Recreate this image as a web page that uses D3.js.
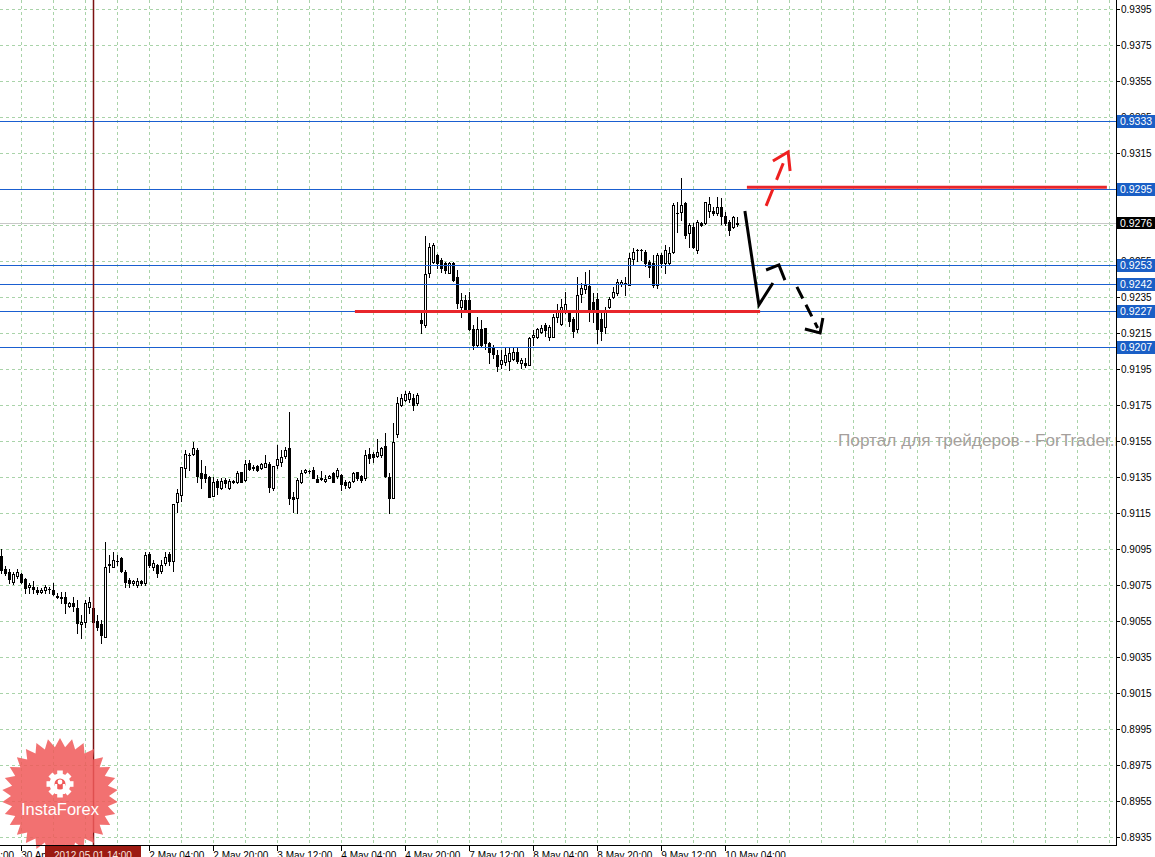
<!DOCTYPE html>
<html><head><meta charset="utf-8">
<script src="https://cdn.jsdelivr.net/npm/d3@7"></script>
<style>body{margin:0;background:#fff;overflow:hidden}svg{display:block}</style>
</head><body>
<svg id="c" width="1155" height="857"></svg>
<script>
// ---- DATA (H1 bars, 30 Apr 15:00 .. 10 May 07:00) ----
const opens = [.90911,.90839,.90822,.90767,.90800,.90811,.90783,.90739,.90739,.90722,.90711,.90722,.90728,.90722,.90689,.90683,.90683,.90633,.90650,.90622,.90533,.90544,.90628,.90622,.90550,.90533,.90461,.90861,.90850,.90883,.90900,.90822,.90778,.90761,.90750,.90772,.90761,.90922,.90850,.90861,.90828,.90872,.90922,.90883,.91211,.91250,.91400,.91472,.91478,.91500,.91372,.91367,.91350,.91244,.91328,.91289,.91333,.91289,.91322,.91322,.91378,.91333,.91428,.91400,.91411,.91400,.91406,.91422,.91289,.91417,.91433,.91467,.91511,.91239,.91233,.91322,.91378,.91383,.91389,.91339,.91339,.91328,.91344,.91372,.91356,.91361,.91322,.91294,.91328,.91378,.91356,.91344,.91478,.91478,.91467,.91472,.91522,.91350,.91233,.91589,.91750,.91778,.91783,.91789,.91761,.92222,.92194,.92483,.92544,.92583,.92556,.92539,.92483,.92539,.92461,.92294,.92333,.92333,.92172,.92083,.92172,.92178,.92094,.92067,.92028,.91978,.91989,.91994,.92006,.92044,.91983,.91983,.91972,.92128,.92128,.92156,.92194,.92128,.92128,.92239,.92200,.92267,.92267,.92228,.92172,.92367,.92394,.92411,.92322,.92339,.92228,.92183,.92294,.92350,.92372,.92422,.92428,.92417,.92561,.92611,.92611,.92600,.92544,.92539,.92417,.92583,.92539,.92539,.92600,.92817,.92822,.92872,.92706,.92739,.92611,.92761,.92761,.92828,.92828,.92817,.92850,.92800,.92767,.92739,.92756];
const highs = [.90950,.90856,.90839,.90822,.90839,.90817,.90789,.90761,.90772,.90739,.90733,.90750,.90739,.90761,.90706,.90711,.90711,.90656,.90683,.90667,.90583,.90667,.90683,.90628,.90583,.90556,.90989,.90917,.90933,.90917,.90906,.90833,.90789,.90778,.90789,.90778,.90935,.90933,.90889,.90867,.90889,.90933,.90933,.91200,.91283,.91406,.91500,.91483,.91544,.91511,.91444,.91411,.91356,.91350,.91339,.91344,.91344,.91339,.91333,.91383,.91378,.91444,.91444,.91417,.91417,.91428,.91472,.91433,.91411,.91528,.91500,.91517,.91711,.91267,.91344,.91389,.91394,.91389,.91406,.91361,.91383,.91361,.91361,.91378,.91400,.91367,.91333,.91328,.91378,.91378,.91361,.91500,.91511,.91489,.91561,.91517,.91594,.91372,.91650,.91794,.91811,.91828,.91828,.91811,.91817,.92261,.92689,.92650,.92650,.92589,.92567,.92544,.92544,.92544,.92500,.92372,.92361,.92378,.92194,.92239,.92222,.92178,.92100,.92083,.92056,.92056,.92067,.92067,.92067,.92067,.92011,.92011,.92128,.92167,.92178,.92194,.92206,.92194,.92256,.92311,.92339,.92378,.92278,.92239,.92461,.92428,.92489,.92500,.92372,.92372,.92261,.92294,.92350,.92406,.92450,.92444,.92461,.92594,.92622,.92617,.92617,.92611,.92556,.92583,.92594,.92594,.92639,.92628,.92872,.92878,.93011,.92878,.92761,.92761,.92778,.92767,.92878,.92906,.92850,.92906,.92900,.92822,.92778,.92800,.92794];
const lows = [.90817,.90806,.90761,.90756,.90789,.90761,.90706,.90706,.90706,.90700,.90706,.90706,.90706,.90694,.90678,.90650,.90594,.90628,.90606,.90483,.90456,.90517,.90594,.90517,.90500,.90428,.90461,.90822,.90850,.90861,.90822,.90739,.90739,.90750,.90739,.90750,.90750,.90850,.90833,.90794,.90817,.90861,.90861,.90828,.91156,.91217,.91350,.91389,.91472,.91322,.91289,.91322,.91239,.91244,.91256,.91283,.91294,.91283,.91317,.91317,.91322,.91328,.91389,.91389,.91383,.91394,.91406,.91267,.91278,.91400,.91411,.91456,.91200,.91156,.91150,.91317,.91372,.91372,.91344,.91322,.91333,.91322,.91344,.91322,.91344,.91278,.91289,.91289,.91322,.91333,.91322,.91333,.91428,.91433,.91461,.91461,.91350,.91150,.91233,.91572,.91744,.91772,.91767,.91722,.91750,.92150,.92183,.92461,.92539,.92511,.92489,.92483,.92483,.92439,.92289,.92239,.92267,.92167,.92061,.92072,.92072,.92061,.91983,.92011,.91939,.91956,.91972,.91944,.92000,.91983,.91956,.91961,.91972,.92083,.92122,.92150,.92133,.92111,.92128,.92211,.92194,.92261,.92189,.92128,.92156,.92322,.92372,.92217,.92211,.92094,.92111,.92150,.92289,.92344,.92361,.92411,.92361,.92417,.92528,.92550,.92556,.92522,.92461,.92406,.92400,.92517,.92483,.92533,.92594,.92711,.92778,.92678,.92628,.92622,.92594,.92744,.92756,.92794,.92806,.92806,.92756,.92750,.92694,.92733,.92744];
const closes = [.90833,.90817,.90783,.90811,.90822,.90767,.90733,.90750,.90728,.90711,.90722,.90739,.90725,.90700,.90683,.90678,.90650,.90650,.90633,.90539,.90544,.90650,.90656,.90544,.90517,.90472,.90850,.90864,.90889,.90886,.90828,.90767,.90761,.90772,.90772,.90761,.90917,.90861,.90872,.90817,.90861,.90906,.90883,.91200,.91261,.91406,.91478,.91475,.91511,.91356,.91344,.91344,.91239,.91322,.91294,.91328,.91317,.91328,.91325,.91372,.91322,.91422,.91394,.91403,.91389,.91422,.91428,.91294,.91411,.91450,.91461,.91500,.91233,.91228,.91333,.91372,.91389,.91386,.91344,.91322,.91342,.91339,.91356,.91322,.91389,.91311,.91306,.91322,.91372,.91344,.91333,.91472,.91456,.91461,.91489,.91511,.91356,.91233,.91544,.91761,.91789,.91811,.91817,.91750,.91806,.92206,.92478,.92628,.92639,.92539,.92511,.92500,.92539,.92444,.92317,.92333,.92278,.92172,.92083,.92172,.92083,.92094,.92044,.92033,.91967,.92000,.92028,.92039,.92044,.91994,.92000,.91972,.92122,.92139,.92172,.92178,.92167,.92183,.92239,.92278,.92294,.92311,.92217,.92161,.92361,.92400,.92417,.92272,.92278,.92172,.92161,.92278,.92339,.92378,.92433,.92433,.92430,.92567,.92600,.92613,.92610,.92539,.92517,.92417,.92583,.92539,.92611,.92594,.92861,.92819,.92861,.92694,.92750,.92628,.92767,.92750,.92878,.92867,.92817,.92850,.92800,.92761,.92722,.92794,.92760];

const priceTicks = [0.8935,0.8955,0.8975,0.8995,0.9015,0.9035,0.9055,0.9075,0.9095,0.9115,0.9135,0.9155,0.9175,0.9195,0.9215,0.9235,0.9255,0.9275,0.9295,0.9315,0.9335,0.9355,0.9375,0.9395];
const timeTickBars = [-11,5,21,37,53,69,85,101,117,133,149,165,181];
const timeTickLabels = ["30 Apr 04:00","30 Apr 20:00","1 May 12:00","2 May 04:00","2 May 20:00","3 May 12:00","4 May 04:00","4 May 20:00","7 May 12:00","8 May 04:00","8 May 20:00","9 May 12:00","10 May 04:00"];
const levelPrices = [0.9333,0.9295,0.9253,0.9242,0.9227,0.9207];
const levelLabels = ["0.9333","0.9295","0.9253","0.9242","0.9227","0.9207"];
const bidPrice = 0.9276;
const vLineBar = 23, vLineLabel = "2012.05.01 14:00";
const redLevels = [{p:0.9227,b0:88.4,b1:189.7},{p:0.9296,b0:186.4,b1:276.4}];
const blackSolidPath = [[185.9,0.92828],[189.4,0.92306],[192.9,0.92428]];
const blackHead1 = [[191.2,0.92500],[194.4,0.92528],[195.9,0.92444]];
const blackDashPath = [[198.9,0.92406],[204.1,0.92178]];
const blackHead2 = [[200.9,0.92172],[204.7,0.92150],[205.4,0.92233]];
const redDashPath = [[191.2,0.92856],[196.2,0.93133]];
const redHead = [[192.9,0.93106],[196.7,0.93156],[197.2,0.93050]];
const watermark = "Портал для трейдеров - ForTrader.ru";

// ---- SCALES ----
const svg = d3.select("#c");
const PR = 1116, PB = 845;
const x = d3.scaleLinear().domain([0,184]).range([1.3,737.3]);
const y = d3.scaleLinear().domain([0.8935,0.9395]).range([837,9]);
const cy = v => Math.round(y(v)) + 0.5;
const font = "'Liberation Sans',Arial,sans-serif";

svg.append("rect").attr("width",1155).attr("height",857).attr("fill","#fff");
svg.append("defs").append("clipPath").attr("id","plot").append("rect").attr("x",0).attr("y",0).attr("width",PR).attr("height",PB);
const plot = svg.append("g").attr("clip-path","url(#plot)");

// grid
const gridCol = "#a9d3a9";
plot.selectAll(".hg").data(priceTicks).join("line")
  .attr("x1",0).attr("x2",PR).attr("y1",d=>cy(d)).attr("y2",d=>cy(d))
  .attr("stroke",gridCol).attr("stroke-dasharray","3,3");
const gridBars = d3.range(5, 290, 8);
plot.selectAll(".vg").data(gridBars).join("line")
  .attr("x1",d=>Math.round(x(d))+0.5).attr("x2",d=>Math.round(x(d))+0.5).attr("y1",0).attr("y2",PB)
  .attr("stroke",gridCol).attr("stroke-dasharray","3,3");

// bid line
plot.append("line").attr("x1",0).attr("x2",PR).attr("y1",cy(bidPrice)).attr("y2",cy(bidPrice)).attr("stroke","#c8c8c8");

// watermark (behind candles)
plot.append("text").attr("x",838).attr("y",446).text(watermark)
  .attr("font-family",font).attr("font-size",17.2).attr("fill","#a59f9c");

// candles
const idx = d3.range(opens.length);
const cg = plot.append("g");
idx.forEach(i=>{
  const cx = Math.round(x(i));
  const o = Math.round(y(opens[i])), c = Math.round(y(closes[i]));
  cg.append("line").attr("x1",cx+0.5).attr("x2",cx+0.5)
    .attr("y1",Math.round(y(highs[i]))).attr("y2",Math.round(y(lows[i]))+1).attr("stroke","#000");
  const top = Math.min(o,c), bot = Math.max(o,c);
  if (bot - top < 1) {
    cg.append("rect").attr("x",cx-1).attr("y",top).attr("width",3).attr("height",1).attr("fill","#000");
  } else if (closes[i] >= opens[i]) {
    cg.append("rect").attr("x",cx-0.5).attr("y",top+0.5).attr("width",2).attr("height",bot-top)
      .attr("fill","#fff").attr("stroke","#000");
  } else {
    cg.append("rect").attr("x",cx-1).attr("y",top).attr("width",3).attr("height",bot-top+1).attr("fill","#000");
  }
});

// horizontal level lines
plot.selectAll(".lv").data(levelPrices).join("line")
  .attr("x1",0).attr("x2",PR).attr("y1",d=>cy(d)).attr("y2",d=>cy(d))
  .attr("stroke","#1a5fd0").attr("stroke-width",1);

// vertical line
plot.append("line").attr("x1",Math.round(x(vLineBar))+0.5).attr("x2",Math.round(x(vLineBar))+0.5)
  .attr("y1",0).attr("y2",PB).attr("stroke","#7c1212").attr("stroke-width",1.5);

// red thick levels
plot.selectAll(".rl").data(redLevels).join("line")
  .attr("x1",d=>x(d.b0)).attr("x2",d=>x(d.b1)).attr("y1",d=>y(d.p)).attr("y2",d=>y(d.p))
  .attr("stroke","#e8262b").attr("stroke-width",3);

// arrows
const ln = d3.line().x(d=>x(d[0])).y(d=>y(d[1]));
function drawPath(pts,col,dash){
  const p = plot.append("path").attr("d",ln(pts)).attr("fill","none").attr("stroke",col)
    .attr("stroke-width",3).attr("stroke-linejoin","miter").attr("stroke-linecap","butt");
  if(dash) p.attr("stroke-dasharray",dash);
}
drawPath(blackSolidPath,"#000");
drawPath(blackHead1,"#000");
drawPath(blackDashPath,"#000","13,7");
drawPath(blackHead2,"#000");
drawPath(redDashPath,"#ee2020","18,10");
drawPath(redHead,"#ee2020");

// InstaForex logo
const lg = svg.append("g").attr("transform","translate(60,796)");
const nPts = 30, rO = 58, rI = 49;
const star = d3.range(nPts*2).map(k=>{
  const a = k*Math.PI/nPts - Math.PI/2, r = k%2===0 ? rO : rI;
  return [r*Math.cos(a), r*Math.sin(a)];
});
lg.append("path").attr("d",d3.line()(star)+"Z").attr("fill","#f05a5a").attr("fill-opacity",0.86);
const gear = lg.append("g").attr("transform","translate(0,-12)");
d3.range(8).forEach(k=>{
  gear.append("rect").attr("x",-2.8).attr("y",-13.5).attr("width",5.6).attr("height",6)
    .attr("fill","#fff").attr("transform",`rotate(${k*45})`);
});
gear.append("circle").attr("r",10.5).attr("fill","#fff");
gear.append("circle").attr("r",5.5).attr("fill","#f05a5a");
gear.append("circle").attr("cy",-2).attr("r",2.4).attr("fill","#fff");
gear.append("rect").attr("x",-5).attr("y",0).attr("width",2.2).attr("height",10).attr("fill","#fff");
gear.append("rect").attr("x",2.8).attr("y",0).attr("width",2.2).attr("height",10).attr("fill","#fff");
lg.append("text").attr("x",0).attr("y",19).attr("text-anchor","middle").text("InstaForex")
  .attr("font-family",font).attr("font-size",16.5).attr("fill","#fff");

// axes
svg.append("line").attr("x1",PR+0.5).attr("x2",PR+0.5).attr("y1",0).attr("y2",PB+1).attr("stroke","#000");
svg.append("line").attr("x1",0).attr("x2",PR+1).attr("y1",PB+0.5).attr("y2",PB+0.5).attr("stroke","#000");
svg.selectAll(".pt").data(priceTicks).join("line")
  .attr("x1",PR).attr("x2",PR+4).attr("y1",d=>cy(d)).attr("y2",d=>cy(d)).attr("stroke","#000");
svg.selectAll(".pl").data(priceTicks).join("text")
  .attr("x",1121).attr("y",d=>y(d)+3.5).text(d=>d.toFixed(4))
  .attr("font-family",font).attr("font-size",10).attr("fill","#000");

// level boxes
const lb = svg.selectAll(".lb").data(levelPrices).join("g");
lb.append("rect").attr("x",1117).attr("y",d=>Math.round(y(d))-6).attr("width",38).attr("height",13).attr("fill","#1a5fc6");
lb.append("text").attr("x",1120).attr("y",d=>y(d)+4).text((d,i)=>levelLabels[i])
  .attr("font-family",font).attr("font-size",10.5).attr("fill","#fff");
svg.append("rect").attr("x",1117).attr("y",Math.round(y(bidPrice))-6).attr("width",38).attr("height",12).attr("fill","#000");
svg.append("text").attr("x",1120).attr("y",y(bidPrice)+4).text(bidPrice.toFixed(4))
  .attr("font-family",font).attr("font-size",10.5).attr("fill","#fff");

// time axis
svg.selectAll(".tt").data(timeTickBars).join("line")
  .attr("x1",d=>Math.round(x(d))+0.5).attr("x2",d=>Math.round(x(d))+0.5).attr("y1",PB).attr("y2",PB+6).attr("stroke","#000");
svg.selectAll(".tl").data(timeTickBars).join("text")
  .attr("x",d=>x(d)).attr("y",859).text((d,i)=>timeTickLabels[i])
  .attr("font-family",font).attr("font-size",10).attr("fill","#000");
const vx = Math.round(x(vLineBar));
svg.append("rect").attr("x",vx-48).attr("y",846).attr("width",96).attr("height",11).attr("fill","#9c1a12");
svg.append("text").attr("x",vx).attr("y",859).attr("text-anchor","middle").text(vLineLabel)
  .attr("font-family",font).attr("font-size",10).attr("fill","#f4e8e0");
</script></body></html>
